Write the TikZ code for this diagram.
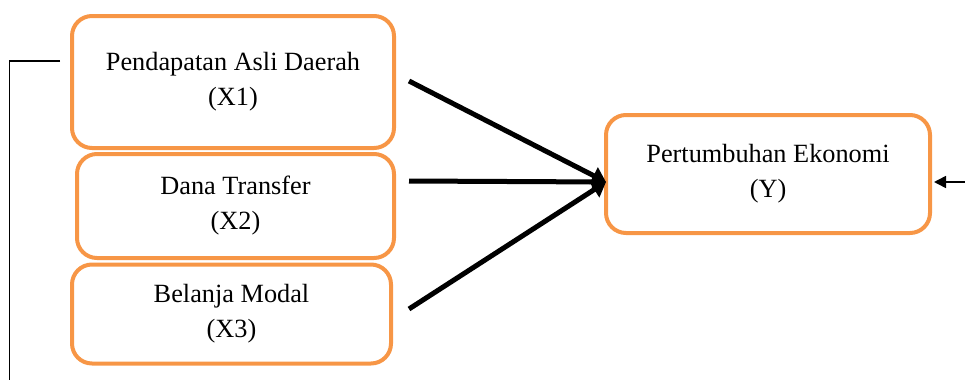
\documentclass[tikz,border=0pt]{standalone}
\usepackage{fontspec}
\setmainfont{Liberation Serif}
\usetikzlibrary{arrows.meta}
\definecolor{boxorange}{RGB}{247,150,70}
\tikzset{
  varbox/.style={draw=boxorange, line width=4pt, rounded corners=20pt, align=center,
    font=\fontsize{26.3}{35}\selectfont, inner sep=0pt},
  bigarrow/.style={line width=5pt, -{Triangle[length=14pt,width=18pt]}},
  thinline/.style={line width=1.6pt},
}
\begin{document}
\begin{tikzpicture}[x=1pt,y=-1pt]
\useasboundingbox (0,0) rectangle (965,380);
\node[varbox, minimum width=322pt, minimum height=132pt] (x1) at (233,82) {Pendapatan Asli Daerah\\(X1)};
\node[varbox, minimum width=317pt, minimum height=104pt] (x2) at (235.5,206) {Dana Transfer\\(X2)};
\node[varbox, minimum width=319pt, minimum height=99pt] (x3) at (231.5,314) {Belanja Modal\\(X3)};
\node[varbox, minimum width=324pt, minimum height=118pt] (y) at (768,174) {Pertumbuhan Ekonomi\\(Y)};
\coordinate (a1) at (409,81);
\coordinate (a2) at (409,181);
\coordinate (a3) at (409,309);
\coordinate (tip) at (606,182);
\draw[bigarrow] (a1) -- (tip);
\draw[bigarrow] (a2) -- (tip);
\draw[bigarrow] (a3) -- (tip);
\coordinate (l0) at (60,61);
\coordinate (l1) at (9.5,61);
\coordinate (l2) at (9.5,380);
\draw[thinline] (l0) -- (l1) -- (l2);
\coordinate (r0) at (965,182);
\coordinate (r1) at (934,182);
\draw[thinline, -{Triangle[length=12pt,width=12pt]}] (r0) -- (r1);
\end{tikzpicture}
\end{document}
